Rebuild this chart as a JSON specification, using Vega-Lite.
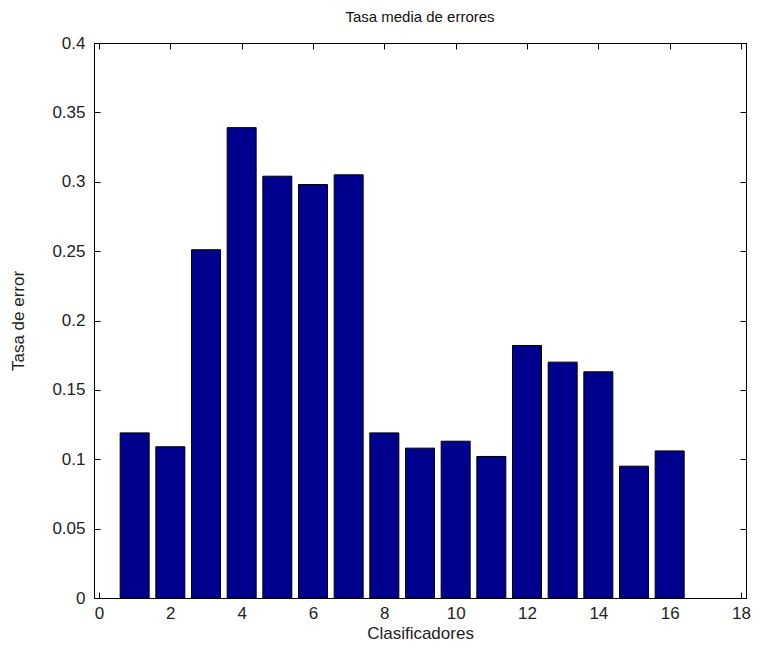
{
  "$schema": "https://vega.github.io/schema/vega-lite/v6.json",
  "width": 652,
  "height": 555,
  "autosize": {"type": "none"},
  "padding": {"left": 94, "top": 43, "right": 13, "bottom": 57},
  "background": "white",
  "title": {"text": "Tasa media de errores", "font": "Liberation Sans", "fontSize": 15, "fontWeight": "normal", "color": "#111", "offset": 9},
  "config": {
    "view": {"stroke": "black", "strokeWidth": 1},
    "axis": {"labelFont": "Liberation Sans", "titleFont": "Liberation Sans", "labelFontSize": 17, "titleFontSize": 17, "titleFontWeight": "normal", "labelColor": "#222", "titleColor": "#222", "grid": false, "domainColor": "black", "tickColor": "black", "tickSize": -6, "ticks": true, "format": "~g"}
  },
  "resolve": {"axis": {"x": "independent", "y": "independent"}},
  "data": {"values": [
    {"clasificador": 1, "tasa": 0.119},
    {"clasificador": 2, "tasa": 0.109},
    {"clasificador": 3, "tasa": 0.251},
    {"clasificador": 4, "tasa": 0.339},
    {"clasificador": 5, "tasa": 0.304},
    {"clasificador": 6, "tasa": 0.298},
    {"clasificador": 7, "tasa": 0.305},
    {"clasificador": 8, "tasa": 0.119},
    {"clasificador": 9, "tasa": 0.108},
    {"clasificador": 10, "tasa": 0.113},
    {"clasificador": 11, "tasa": 0.102},
    {"clasificador": 12, "tasa": 0.182},
    {"clasificador": 13, "tasa": 0.170},
    {"clasificador": 14, "tasa": 0.163},
    {"clasificador": 15, "tasa": 0.095},
    {"clasificador": 16, "tasa": 0.106}
  ]},
  "layer": [
    {
      "mark": {"type": "bar", "size": 29, "color": "#00008F", "stroke": "black", "strokeWidth": 1},
      "encoding": {
        "x": {"field": "clasificador", "type": "quantitative", "scale": {"domain": [0, 18], "nice": false, "zero": false}, "axis": {"orient": "bottom", "values": [0,2,4,6,8,10,12,14,16,18], "format": "~g", "title": "Clasificadores", "labelPadding": 13, "titlePadding": 4}},
        "y": {"field": "tasa", "type": "quantitative", "scale": {"domain": [0, 0.4], "nice": false}, "axis": {"orient": "left", "values": [0,0.05,0.1,0.15,0.2,0.25,0.3,0.35,0.4], "format": "~g", "title": "Tasa de error", "labelPadding": 15, "titlePadding": 24}}
      }
    },
    {
      "mark": {"type": "bar", "opacity": 0},
      "encoding": {
        "x": {"field": "clasificador", "type": "quantitative", "axis": {"orient": "top", "values": [0,2,4,6,8,10,12,14,16,18], "labels": false, "title": null}},
        "y": {"field": "tasa", "type": "quantitative", "axis": {"orient": "right", "values": [0,0.05,0.1,0.15,0.2,0.25,0.3,0.35,0.4], "labels": false, "title": null}}
      }
    }
  ]
}
